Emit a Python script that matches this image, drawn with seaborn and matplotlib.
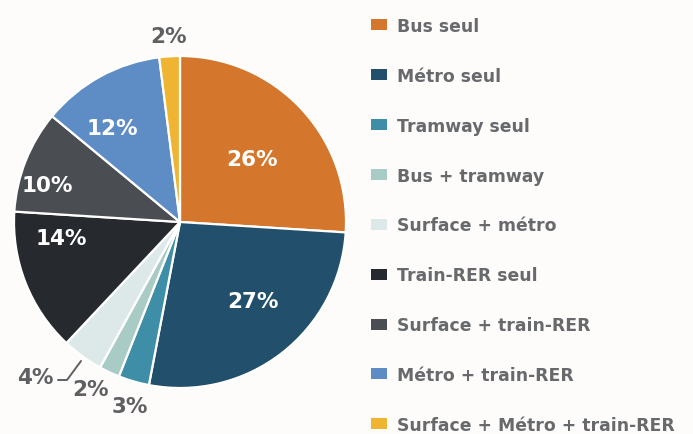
import numpy as np
import matplotlib
matplotlib.use("Agg")
import matplotlib.pyplot as plt
import seaborn as sns

# Répartition des déplacements en transports collectifs par mode
modes = [
    "Bus seul",
    "Métro seul",
    "Tramway seul",
    "Bus + tramway",
    "Surface + métro",
    "Train-RER seul",
    "Surface + train-RER",
    "Métro + train-RER",
    "Surface + Métro + train-RER",
]
parts = [26, 27, 3, 2, 4, 14, 10, 12, 2]
pct_labels = [f"{v}%" for v in parts]

colors = sns.color_palette([
    "#D4762C", "#214F6C", "#3D8EA6", "#A8CBC6", "#DDE9E8",
    "#26292D", "#4A4D51", "#5E8DC6", "#F0B433",
])

sns.set_theme(style="white")
plt.rcParams["font.family"] = ["DejaVu Sans"]

W, H = 693, 435
bg = "#FDFCFA"
fig = plt.figure(figsize=(W / 100, H / 100), dpi=100, facecolor=bg)
ax = fig.add_axes([0, 0, 1, 1])
ax.set_facecolor(bg)

cx, cy, R = 180, H - 223, 166
wedges, _ = ax.pie(
    parts, colors=colors, startangle=90, counterclock=False,
    center=(cx, cy), radius=R,
    wedgeprops=dict(edgecolor="white", linewidth=1.6),
)
ax.set_xlim(0, W)
ax.set_ylim(0, H)
ax.set_aspect("equal")
ax.axis("off")

# label placement per slice: (distance as fraction of radius, angle nudge in deg, inside?)
placement = [
    (0.58, -2, True),
    (0.65, 5, True),
    (1.15, 1, False),
    (1.14, -3, False),
    (1.28, -7, False),
    (0.72, -14, True),
    (0.83, 6, True),
    (0.70, 7, True),
    (1.12, 0, False),
]
for w, txt, (d, nudge, inside) in zip(wedges, pct_labels, placement):
    ang = np.deg2rad((w.theta1 + w.theta2) / 2 + nudge)
    x = cx + d * R * np.cos(ang)
    y = cy + d * R * np.sin(ang)
    ax.text(x, y, txt, ha="center", va="center", fontsize=15.5, fontweight="bold",
            color="white" if inside else "#5E6063")

# leader line for the small "Surface + métro" share
ax.plot([58, 67, 81], [H - 381, H - 381, H - 362], color="#5E6063", lw=1.4,
        solid_capstyle="round")

leg = ax.legend(
    wedges, modes, loc="upper left", bbox_to_anchor=(371, H - 18),
    bbox_transform=ax.transData, frameon=False, fontsize=12.4,
    handlelength=0.95, handleheight=0.6, handletextpad=0.55,
    labelspacing=1.85, borderpad=0, borderaxespad=0,
)
for t in leg.get_texts():
    t.set_color("#67696C")
    t.set_fontweight("bold")
for h in leg.legend_handles:
    h.set_edgecolor("none")

fig.savefig("out.png", dpi=100, facecolor=bg)
